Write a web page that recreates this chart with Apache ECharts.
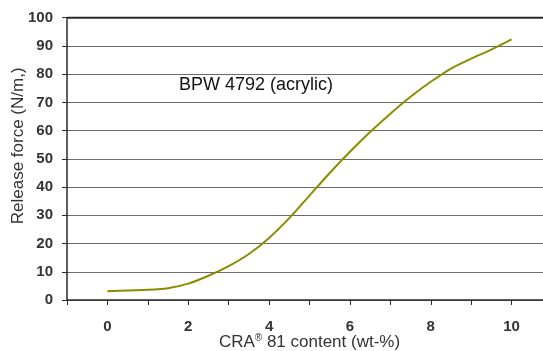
<!DOCTYPE html>
<html><head><meta charset="utf-8">
<script src="https://cdn.jsdelivr.net/npm/echarts@6/dist/echarts.min.js"></script>
<style>html,body{margin:0;padding:0;background:#fff}#c{width:543px;height:351px}</style>
</head><body><div id="c"></div>
<script>
var craContent = [0, 0.5, 1, 1.5, 2, 2.5, 3, 3.5, 4, 4.5, 5, 5.5, 6, 6.5, 7, 7.5, 8, 8.5, 9, 9.5, 10];
var releaseForce = [3.1, 3.4, 3.6, 4.2, 5.8, 8.6, 12.0, 16.3, 22.0, 29.0, 37.0, 45.0, 52.5, 59.5, 66.0, 72.0, 77.3, 82.0, 85.5, 88.7, 92.3];
var xTickLabels = [0, 2, 4, 6, 8, 10];
var yTickLabels = [0, 10, 20, 30, 40, 50, 60, 70, 80, 90, 100];
var seriesName = 'BPW 4792 (acrylic)';

var chart = echarts.init(document.getElementById('c'));
var font = '"Liberation Sans", Arial, sans-serif';
chart.setOption({
  animation: false,
  grid: {left: 67, top: 17.7, bottom: 51, right: -9, containLabel: false, outerBoundsMode: 'none'},
  xAxis: {
    type: 'value', min: -1, max: 11, interval: 1,
    axisLine: {onZero: false, lineStyle: {color: '#2b2b2b', width: 1.5}},
    axisTick: {show: true, length: 5, lineStyle: {color: '#2b2b2b'}},
    splitLine: {show: false},
    axisLabel: {
      margin: 19, fontFamily: font, fontWeight: 'bold', fontSize: 15, color: '#333',
      formatter: function (v) { return xTickLabels.indexOf(v) >= 0 ? String(v) : ''; }
    },
    name: '{a|CRA}{s|®}{a| 81 content (wt-%)}', nameLocation: 'middle', nameGap: 33,
    nameMoveOverlap: false,
    nameTextStyle: {rich: {
      a: {fontFamily: font, fontSize: 17, color: '#333'},
      s: {fontFamily: font, fontSize: 10, color: '#333', verticalAlign: 'top', padding: [0, 0, 8, 0]}
    }}
  },
  yAxis: {
    type: 'value', min: 0, max: 100, interval: 10,
    axisLine: {show: true, onZero: false, lineStyle: {color: '#2b2b2b', width: 1.5}},
    axisTick: {show: true, length: 5, lineStyle: {color: '#2b2b2b'}},
    splitLine: {lineStyle: {color: '#6a6a6a', width: 1}},
    axisLabel: {
      margin: 14, fontFamily: font, fontWeight: 'bold', fontSize: 15, color: '#333',
      formatter: function (v) { return yTickLabels.indexOf(v) >= 0 ? String(v) : ''; }
    },
    name: 'Release force (N/m,)', nameLocation: 'middle', nameGap: 40,
    nameMoveOverlap: false,
    nameTextStyle: {fontFamily: font, fontSize: 17, color: '#333', padding: [0, 0, 0, 26]}
  },
  graphic: [
    {type: 'line', shape: {x1: 67, y1: 17.7, x2: 543, y2: 17.7}, style: {stroke: '#2b2b2b', lineWidth: 2}, z: 10},
    {type: 'text', left: 179, top: 76, style: {text: seriesName, font: '18px "Liberation Sans", Arial, sans-serif', fill: '#111'}}
  ],
  series: [{
    type: 'line', name: seriesName, smooth: 0.3, showSymbol: false,
    data: craContent.map(function (x, i) { return [x, releaseForce[i]]; }),
    lineStyle: {color: '#8c8c00', width: 2}, itemStyle: {color: '#8c8c00'}
  }]
});
</script></body></html>
